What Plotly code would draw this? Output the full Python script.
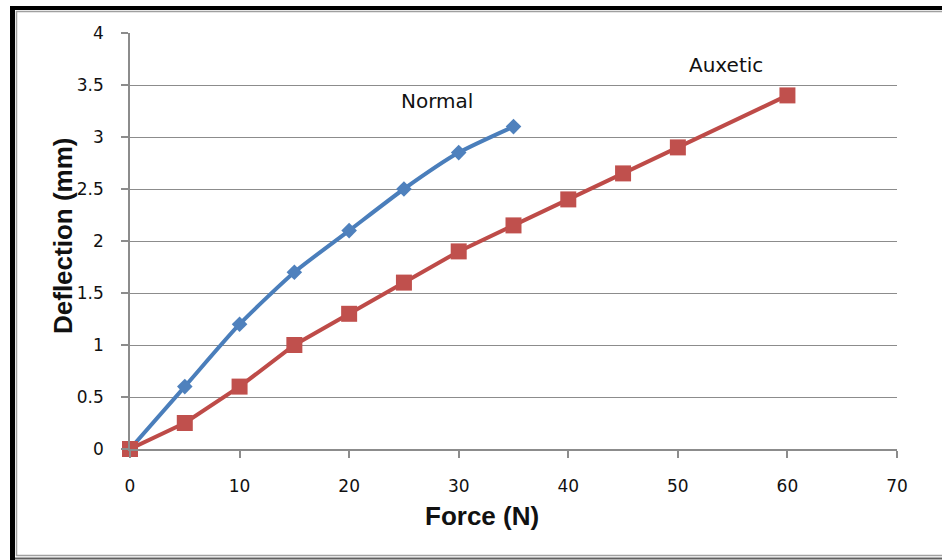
import plotly.graph_objects as go

# Load test: deflection vs applied force
force_normal = [0, 5, 10, 15, 20, 25, 30, 35]
defl_normal = [0, 0.6, 1.2, 1.7, 2.1, 2.5, 2.85, 3.1]

force_auxetic = [0, 5, 10, 15, 20, 25, 30, 35, 40, 45, 50, 60]
defl_auxetic = [0, 0.25, 0.6, 1.0, 1.3, 1.6, 1.9, 2.15, 2.4, 2.65, 2.9, 3.4]

x_ticks = [0, 10, 20, 30, 40, 50, 60, 70]
y_ticks = [0, 0.5, 1, 1.5, 2, 2.5, 3, 3.5, 4]
y_tick_text = ["0", "0.5", "1", "1.5", "2", "2.5", "3", "3.5", "4"]

W, H = 942, 560
ML, MR, MT, MB = 130, 45, 33, 111
PW, PH = W - ML - MR, H - MT - MB


def px(x):
    return (x - ML) / PW


def py(y):
    return (H - MB - y) / PH


BLUE_LINE, BLUE_MARK = "#4A7EBB", "#4F81BD"
RED_LINE, RED_MARK = "#BE4B48", "#C0504D"
GRID = "#8C8C8C"
TICK_FONT = dict(family="DejaVu Sans", size=17, color="#111111")

fig = go.Figure()

fig.add_trace(go.Scatter(
    x=force_normal, y=defl_normal, name="Normal",
    mode="lines+markers", line=dict(color=BLUE_LINE, width=4, shape="spline", smoothing=0.6),
    marker=dict(symbol="diamond", size=12, color=BLUE_MARK, line=dict(width=0)),
    cliponaxis=False,
))
fig.add_trace(go.Scatter(
    x=force_auxetic, y=defl_auxetic, name="Auxetic",
    mode="lines+markers", line=dict(color=RED_LINE, width=4),
    marker=dict(symbol="square", size=16, color=RED_MARK, line=dict(width=0)),
    cliponaxis=False,
))

fig.update_xaxes(
    range=[0, 70], tickvals=x_ticks, showgrid=False, zeroline=False,
    showline=True, linecolor=GRID, linewidth=1.5,
    ticks="outside", ticklen=7, tickcolor=GRID, tickwidth=1.5,
    tickfont=TICK_FONT, ticklabelstandoff=14,
)
fig.update_yaxes(
    range=[0, 4], tickvals=y_ticks, ticktext=y_tick_text,
    showgrid=True, gridcolor=GRID, gridwidth=1.2, zeroline=False,
    showline=True, linecolor=GRID, linewidth=1.5,
    ticks="outside", ticklen=7, tickcolor=GRID, tickwidth=1.5,
    tickfont=TICK_FONT, ticklabelstandoff=14,
)

annotations = [
    dict(text="Normal", x=px(437), y=py(101)),
    dict(text="Auxetic", x=px(726), y=py(65)),
]
anns = [dict(a, xref="paper", yref="paper", showarrow=False,
             xanchor="center", yanchor="middle",
             font=dict(family="DejaVu Sans", size=20, color="#111111"))
        for a in annotations]
anns.append(dict(text="<b>Force (N)</b>", x=px(482), y=py(516), xref="paper", yref="paper",
                 showarrow=False, xanchor="center", yanchor="middle",
                 font=dict(family="Liberation Sans", size=26, color="#111111")))
anns.append(dict(text="<b>Deflection (mm)</b>", x=px(63), y=py(236), xref="paper", yref="paper",
                 showarrow=False, textangle=-90, xanchor="center", yanchor="middle",
                 font=dict(family="Liberation Sans", size=26, color="#111111")))

# Chart frame: heavy black edges on the left/top with thin grey inner rule
shapes = [
    dict(type="rect", x0=px(10), x1=px(15), y0=py(6), y1=py(560),
         fillcolor="black", line=dict(width=0)),
    dict(type="rect", x0=px(10), x1=px(960), y0=py(6), y1=py(10),
         fillcolor="black", line=dict(width=0)),
    dict(type="line", x0=px(16.5), x1=px(16.5), y0=py(11), y1=py(556),
         line=dict(color="#A0A0A0", width=1.5)),
    dict(type="line", x0=px(16), x1=px(960), y0=py(11.5), y1=py(11.5),
         line=dict(color="#A0A0A0", width=1.5)),
    dict(type="line", x0=px(16), x1=px(960), y0=py(555.5), y1=py(555.5),
         line=dict(color="#A0A0A0", width=1.5)),
    dict(type="line", x0=px(15), x1=px(960), y0=py(558.5), y1=py(558.5),
         line=dict(color="#606060", width=2)),
]
for s in shapes:
    s.update(xref="paper", yref="paper", layer="above")

fig.update_layout(
    width=W, height=H,
    margin=dict(l=ML, r=MR, t=MT, b=MB),
    paper_bgcolor="white", plot_bgcolor="white",
    showlegend=False,
    annotations=anns, shapes=shapes,
)

fig.write_html("out.html")
